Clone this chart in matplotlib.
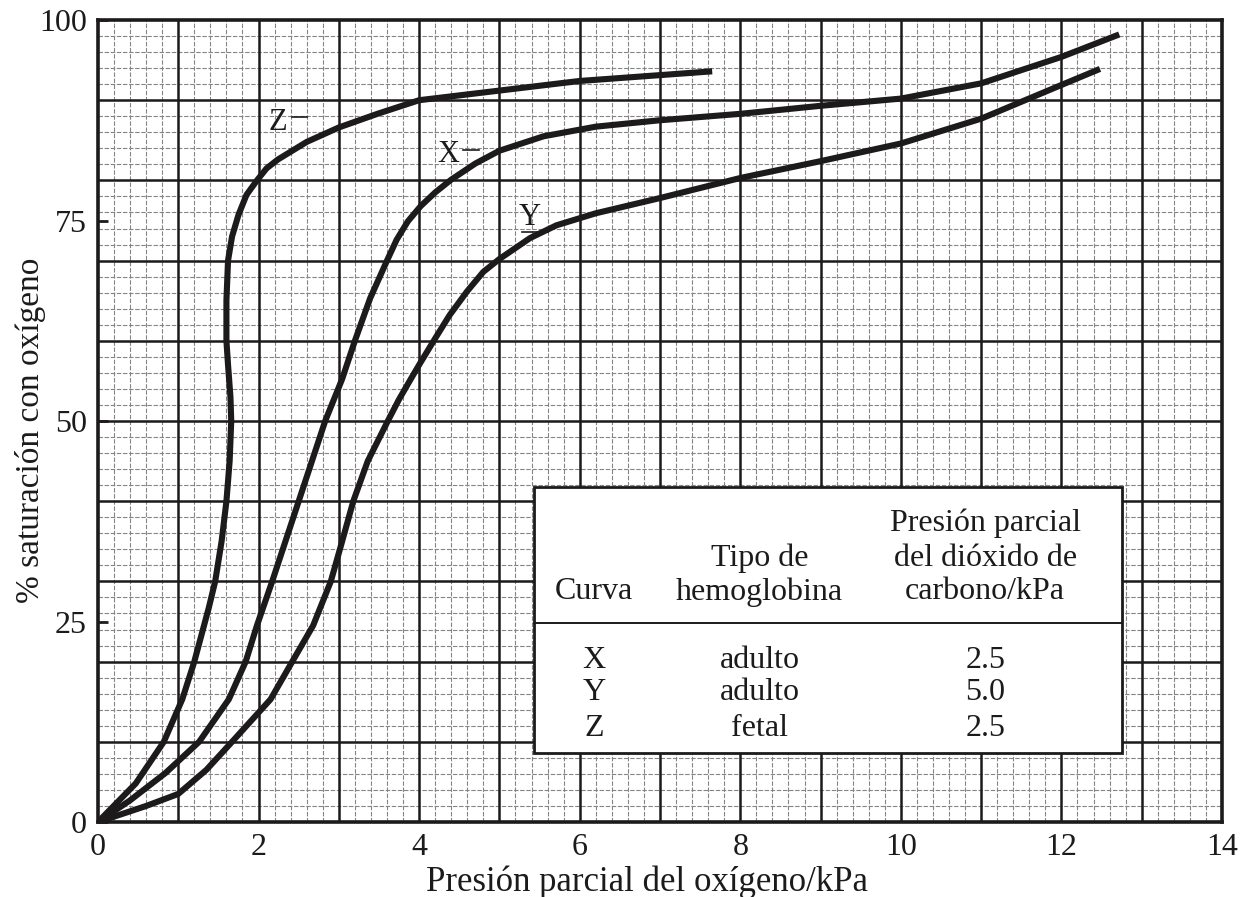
"""Oxygen dissociation curves for adult and fetal haemoglobin on graph paper."""

import matplotlib.pyplot as plt
import numpy as np
from matplotlib.patches import Rectangle

# curve X: adult haemoglobin, pCO2 2.5 kPa
x_po2 = [0, 0.4, 0.84, 1.26, 1.63, 1.84, 1.98, 2.17, 2.5, 2.83, 3.04, 3.2, 3.39,
         3.6, 3.72, 3.86, 4.02, 4.2, 4.4, 4.7, 5.0, 5.55, 6.2, 7, 8, 9, 10, 11, 12, 12.72]
x_sat = [0, 2.7, 6.1, 10, 15.3, 20, 24.5, 30, 40, 50, 55.2, 60, 65.3,
         70, 72.6, 74.9, 76.8, 78.5, 80.1, 82.1, 83.7, 85.5, 86.7, 87.5, 88.3, 89.3, 90.2, 92.1, 95.4, 98.2]

# curve Y: adult haemoglobin, pCO2 5.0 kPa
y_po2 = [0, 0.3, 0.6, 1.0, 1.35, 1.67, 2.15, 2.42, 2.68, 2.9, 3.03, 3.18, 3.36, 3.61,
         3.75, 3.9, 4.0, 4.2, 4.38, 4.6, 4.8, 5.0, 5.38, 5.71, 6.2, 7, 8, 9, 10, 11, 12, 12.48]
y_sat = [0, 1, 2, 3.5, 6.5, 10, 15.3, 20, 24.5, 30, 34.6, 40, 45, 50,
         52.7, 55.3, 57.0, 60.3, 63.2, 66.2, 68.6, 70.2, 72.8, 74.4, 75.9, 77.8, 80.3, 82.4, 84.6, 87.7, 91.9, 93.9]

# curve Z: fetal haemoglobin, pCO2 2.5 kPa
z_po2 = [0, 0.47, 0.82, 1.05, 1.2, 1.38, 1.46, 1.54, 1.6, 1.64, 1.66, 1.65, 1.62, 1.6, 1.6,
         1.62, 1.67, 1.75, 1.85, 1.98, 2.1, 2.24, 2.6, 3.0, 3.48, 4.0, 5.0, 6.0, 7.65]
z_sat = [0, 4.8, 10, 15.3, 20, 26.7, 30, 35, 40, 45, 50, 53, 57, 60, 65,
         70, 73, 75.7, 78.2, 80, 81.5, 82.6, 84.8, 86.6, 88.3, 90, 91.2, 92.4, 93.6]

table_curves = ["X", "Y", "Z"]
table_types = ["adulto", "adulto", "fetal"]
table_co2 = ["2.5", "5.0", "2.5"]

x_ticks = [0, 2, 4, 6, 8, 10, 12, 14]
y_ticks = [0, 25, 50, 75, 100]

INK = "#1c1a1a"
plt.rcParams["font.family"] = "Liberation Serif"

figure = plt.figure(figsize=(12.4, 8.97), dpi=100)
axis = figure.add_axes([0.079, 0.0836, 0.9065, 0.8941])
axis.set_xlim(0, 14)
axis.set_ylim(0, 100)

# graph paper: fine lines every 0.2 kPa / 2 %, heavy lines every 1 kPa / 10 %
axis.vlines(np.arange(0.2, 14, 0.2), 0, 100, color="#858585", linewidth=0.8,
            linestyles=(0, (4, 1.5)), zorder=0)
axis.hlines(np.arange(2, 100, 2), 0, 14, color="#858585", linewidth=0.8,
            linestyles=(0, (4, 1.5)), zorder=0)
axis.vlines(np.arange(1, 14, 1), 0, 100, color=INK, linewidth=1.8, zorder=1)
axis.hlines(np.arange(10, 100, 10), 0, 14, color=INK, linewidth=1.8, zorder=1)

axis.set_xticks(x_ticks, [str(t) for t in x_ticks])
axis.set_yticks(y_ticks, [str(t) for t in y_ticks])
axis.tick_params(axis="both", length=0, labelsize=23, labelcolor=INK, pad=8)
axis.tick_params(axis="y", direction="in", length=7, width=2, color=INK)
for spine in axis.spines.values():
    spine.set_linewidth(2.6)
    spine.set_color(INK)
    spine.set_zorder(4)

axis.set_xlabel("Presión parcial del oxígeno/kPa", fontsize=25, color=INK)
axis.xaxis.set_label_coords(0.488, -0.054)
axis.set_ylabel("% saturación con oxígeno", fontsize=24, color=INK)
axis.yaxis.set_label_coords(-0.046, 0.489)

for po2, sat in [(x_po2, x_sat), (y_po2, y_sat), (z_po2, z_sat)]:
    axis.plot(po2, sat, color=INK, linewidth=4.4, solid_capstyle="butt",
              solid_joinstyle="round", zorder=3)

axis.text(2.24, 87.2, "Z", fontsize=22, ha="center", va="center", color=INK, zorder=4)
axis.plot([2.42, 2.6], [87.9, 87.9], color=INK, linewidth=1.2, zorder=4)
axis.text(4.36, 83.2, "X", fontsize=22, ha="center", va="center", color=INK, zorder=4)
axis.plot([4.55, 4.75], [83.8, 83.8], color=INK, linewidth=1.2, zorder=4)
axis.text(5.38, 75.4, "Y", fontsize=22, ha="center", va="center", color=INK, zorder=4)
axis.plot([5.28, 5.6], [73.6, 73.6], color=INK, linewidth=1.2, zorder=4)

# key table
axis.add_patch(Rectangle((5.43, 8.6), 7.32, 33.2, facecolor="white", edgecolor=INK,
                         linewidth=2, zorder=5))
axis.plot([5.43, 12.75], [24.8, 24.8], color=INK, linewidth=1.4, zorder=6)
size = 23
col_curve, col_type, col_co2 = 6.18, 8.24, 11.05
axis.text(col_curve, 28.7, "Curva", fontsize=size, ha="center", va="center", color=INK, zorder=6)
for level, line in zip([32.9, 28.7], ["Tipo de", "hemoglobina"]):
    axis.text(col_type, level, line, fontsize=size, ha="center", va="center", color=INK, zorder=6)
for level, line in zip([37.3, 32.9, 28.7], ["Presión parcial", "del dióxido de", "carbono/kPa"]):
    axis.text(col_co2, level, line, fontsize=size, ha="center", va="center", color=INK, zorder=6)
for level, curve, kind, co2 in zip([20.2, 16.1, 11.7], table_curves, table_types, table_co2):
    axis.text(col_curve, level, curve, fontsize=size, ha="center", va="center", color=INK, zorder=6)
    axis.text(col_type, level, kind, fontsize=size, ha="center", va="center", color=INK, zorder=6)
    axis.text(col_co2, level, co2, fontsize=size, ha="center", va="center", color=INK, zorder=6)

figure.savefig("out.png", dpi=100)
plt.close(figure)
